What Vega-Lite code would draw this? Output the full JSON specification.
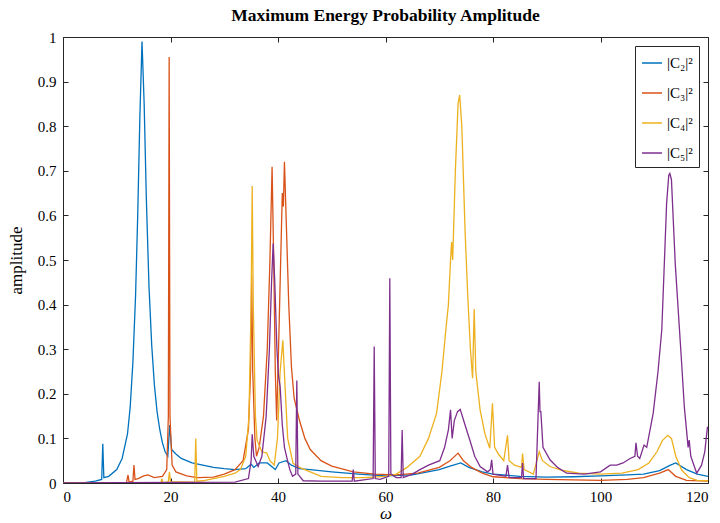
{
  "$schema": "https://vega.github.io/schema/vega-lite/v6.json",
  "width": 645,
  "height": 446,
  "autosize": {"type": "none"},
  "padding": {"left": 63, "top": 37, "right": 12, "bottom": 40},
  "background": "white",
  "title": {"text": "Maximum Energy Probability Amplitude", "font": "Liberation Serif", "fontSize": 17.5, "fontWeight": "bold", "color": "#000000", "offset": 6, "anchor": "middle"},
  "config": {
    "view": {"stroke": "#262626", "strokeWidth": 1},
    "axis": {"grid": false, "domain": false, "tickColor": "#262626", "tickWidth": 1, "labelFont": "Liberation Serif", "labelFontSize": 15, "labelColor": "#000000", "titleFont": "Liberation Serif", "titleFontSize": 17, "titleFontWeight": "normal", "titleColor": "#000000"},
    "legend": {"orient": "top-right", "offset": 9, "strokeColor": "#262626", "fillColor": "white", "padding": 6, "symbolType": "stroke", "symbolSize": 400, "symbolStrokeWidth": 1.5, "labelFont": "Liberation Serif", "labelFontSize": 15, "labelColor": "#000000", "rowPadding": 11, "labelOffset": 4}
  },
  "data": {"values": [
    {"w": 0, "a": 0, "s": "|C₂|²"}, {"w": 4, "a": 0.001, "s": "|C₂|²"}, {"w": 6, "a": 0.004, "s": "|C₂|²"}, {"w": 7.2, "a": 0.008, "s": "|C₂|²"}, {"w": 7.4, "a": 0.088, "s": "|C₂|²"}, {"w": 7.6, "a": 0.012, "s": "|C₂|²"}, {"w": 8.5, "a": 0.015, "s": "|C₂|²"}, {"w": 10, "a": 0.03, "s": "|C₂|²"}, {"w": 11, "a": 0.055, "s": "|C₂|²"}, {"w": 12, "a": 0.11, "s": "|C₂|²"}, {"w": 12.5, "a": 0.17, "s": "|C₂|²"}, {"w": 13, "a": 0.27, "s": "|C₂|²"}, {"w": 13.5, "a": 0.42, "s": "|C₂|²"}, {"w": 13.9, "a": 0.6, "s": "|C₂|²"}, {"w": 14.3, "a": 0.82, "s": "|C₂|²"}, {"w": 14.7, "a": 0.99, "s": "|C₂|²"}, {"w": 15.1, "a": 0.85, "s": "|C₂|²"}, {"w": 15.5, "a": 0.64, "s": "|C₂|²"}, {"w": 16, "a": 0.44, "s": "|C₂|²"}, {"w": 16.5, "a": 0.31, "s": "|C₂|²"}, {"w": 17, "a": 0.22, "s": "|C₂|²"}, {"w": 17.5, "a": 0.16, "s": "|C₂|²"}, {"w": 18, "a": 0.12, "s": "|C₂|²"}, {"w": 18.5, "a": 0.09, "s": "|C₂|²"}, {"w": 19, "a": 0.07, "s": "|C₂|²"}, {"w": 19.5, "a": 0.06, "s": "|C₂|²"}, {"w": 19.85, "a": 0.13, "s": "|C₂|²"}, {"w": 20.2, "a": 0.075, "s": "|C₂|²"}, {"w": 21, "a": 0.065, "s": "|C₂|²"}, {"w": 22, "a": 0.055, "s": "|C₂|²"}, {"w": 24, "a": 0.045, "s": "|C₂|²"}, {"w": 26, "a": 0.04, "s": "|C₂|²"}, {"w": 28, "a": 0.035, "s": "|C₂|²"}, {"w": 30, "a": 0.032, "s": "|C₂|²"}, {"w": 32, "a": 0.03, "s": "|C₂|²"}, {"w": 34, "a": 0.032, "s": "|C₂|²"}, {"w": 35, "a": 0.042, "s": "|C₂|²"}, {"w": 35.5, "a": 0.035, "s": "|C₂|²"}, {"w": 36.5, "a": 0.045, "s": "|C₂|²"}, {"w": 38, "a": 0.045, "s": "|C₂|²"}, {"w": 39.5, "a": 0.03, "s": "|C₂|²"}, {"w": 40.2, "a": 0.045, "s": "|C₂|²"}, {"w": 41.5, "a": 0.05, "s": "|C₂|²"}, {"w": 42.5, "a": 0.04, "s": "|C₂|²"}, {"w": 44, "a": 0.032, "s": "|C₂|²"}, {"w": 46, "a": 0.03, "s": "|C₂|²"}, {"w": 50, "a": 0.025, "s": "|C₂|²"}, {"w": 55, "a": 0.02, "s": "|C₂|²"}, {"w": 60, "a": 0.016, "s": "|C₂|²"}, {"w": 65, "a": 0.018, "s": "|C₂|²"}, {"w": 70, "a": 0.03, "s": "|C₂|²"}, {"w": 72, "a": 0.038, "s": "|C₂|²"}, {"w": 74, "a": 0.045, "s": "|C₂|²"}, {"w": 75.5, "a": 0.035, "s": "|C₂|²"}, {"w": 78, "a": 0.025, "s": "|C₂|²"}, {"w": 80, "a": 0.02, "s": "|C₂|²"}, {"w": 85, "a": 0.015, "s": "|C₂|²"}, {"w": 90, "a": 0.013, "s": "|C₂|²"}, {"w": 95, "a": 0.014, "s": "|C₂|²"}, {"w": 100, "a": 0.016, "s": "|C₂|²"}, {"w": 105, "a": 0.018, "s": "|C₂|²"}, {"w": 108, "a": 0.02, "s": "|C₂|²"}, {"w": 111, "a": 0.028, "s": "|C₂|²"}, {"w": 113, "a": 0.04, "s": "|C₂|²"}, {"w": 114, "a": 0.045, "s": "|C₂|²"}, {"w": 116, "a": 0.03, "s": "|C₂|²"}, {"w": 118, "a": 0.02, "s": "|C₂|²"}, {"w": 120, "a": 0.015, "s": "|C₂|²"},

    {"w": 0, "a": 0, "s": "|C₃|²"}, {"w": 11.8, "a": 0, "s": "|C₃|²"}, {"w": 12.1, "a": 0.018, "s": "|C₃|²"}, {"w": 12.3, "a": 0.002, "s": "|C₃|²"}, {"w": 13.0, "a": 0.004, "s": "|C₃|²"}, {"w": 13.2, "a": 0.04, "s": "|C₃|²"}, {"w": 13.4, "a": 0.008, "s": "|C₃|²"}, {"w": 14, "a": 0.01, "s": "|C₃|²"}, {"w": 15, "a": 0.016, "s": "|C₃|²"}, {"w": 15.8, "a": 0.018, "s": "|C₃|²"}, {"w": 17, "a": 0.012, "s": "|C₃|²"}, {"w": 18.5, "a": 0.015, "s": "|C₃|²"}, {"w": 19.3, "a": 0.03, "s": "|C₃|²"}, {"w": 19.6, "a": 0.15, "s": "|C₃|²"}, {"w": 19.75, "a": 0.955, "s": "|C₃|²"}, {"w": 19.9, "a": 0.15, "s": "|C₃|²"}, {"w": 20.3, "a": 0.04, "s": "|C₃|²"}, {"w": 21, "a": 0.025, "s": "|C₃|²"}, {"w": 23, "a": 0.016, "s": "|C₃|²"}, {"w": 25, "a": 0.012, "s": "|C₃|²"}, {"w": 28, "a": 0.013, "s": "|C₃|²"}, {"w": 30, "a": 0.02, "s": "|C₃|²"}, {"w": 32, "a": 0.03, "s": "|C₃|²"}, {"w": 33.5, "a": 0.05, "s": "|C₃|²"}, {"w": 34.5, "a": 0.12, "s": "|C₃|²"}, {"w": 34.9, "a": 0.25, "s": "|C₃|²"}, {"w": 35.1, "a": 0.466, "s": "|C₃|²"}, {"w": 35.3, "a": 0.25, "s": "|C₃|²"}, {"w": 35.7, "a": 0.1, "s": "|C₃|²"}, {"w": 36.0, "a": 0.06, "s": "|C₃|²"}, {"w": 36.5, "a": 0.08, "s": "|C₃|²"}, {"w": 37.3, "a": 0.15, "s": "|C₃|²"}, {"w": 38, "a": 0.3, "s": "|C₃|²"}, {"w": 38.5, "a": 0.5, "s": "|C₃|²"}, {"w": 38.9, "a": 0.709, "s": "|C₃|²"}, {"w": 39.2, "a": 0.5, "s": "|C₃|²"}, {"w": 39.5, "a": 0.25, "s": "|C₃|²"}, {"w": 39.75, "a": 0.14, "s": "|C₃|²"}, {"w": 40.1, "a": 0.3, "s": "|C₃|²"}, {"w": 40.5, "a": 0.5, "s": "|C₃|²"}, {"w": 40.8, "a": 0.65, "s": "|C₃|²"}, {"w": 41.0, "a": 0.62, "s": "|C₃|²"}, {"w": 41.2, "a": 0.72, "s": "|C₃|²"}, {"w": 41.5, "a": 0.6, "s": "|C₃|²"}, {"w": 42, "a": 0.4, "s": "|C₃|²"}, {"w": 42.5, "a": 0.26, "s": "|C₃|²"}, {"w": 43, "a": 0.19, "s": "|C₃|²"}, {"w": 44, "a": 0.14, "s": "|C₃|²"}, {"w": 45, "a": 0.1, "s": "|C₃|²"}, {"w": 46, "a": 0.075, "s": "|C₃|²"}, {"w": 48, "a": 0.05, "s": "|C₃|²"}, {"w": 50, "a": 0.038, "s": "|C₃|²"}, {"w": 54, "a": 0.025, "s": "|C₃|²"}, {"w": 58, "a": 0.02, "s": "|C₃|²"}, {"w": 62, "a": 0.018, "s": "|C₃|²"}, {"w": 66, "a": 0.022, "s": "|C₃|²"}, {"w": 70, "a": 0.035, "s": "|C₃|²"}, {"w": 72, "a": 0.05, "s": "|C₃|²"}, {"w": 73.5, "a": 0.067, "s": "|C₃|²"}, {"w": 74.5, "a": 0.05, "s": "|C₃|²"}, {"w": 76, "a": 0.035, "s": "|C₃|²"}, {"w": 78, "a": 0.022, "s": "|C₃|²"}, {"w": 80, "a": 0.014, "s": "|C₃|²"}, {"w": 85, "a": 0.01, "s": "|C₃|²"}, {"w": 90, "a": 0.008, "s": "|C₃|²"}, {"w": 95, "a": 0.007, "s": "|C₃|²"}, {"w": 100, "a": 0.006, "s": "|C₃|²"}, {"w": 105, "a": 0.008, "s": "|C₃|²"}, {"w": 108, "a": 0.012, "s": "|C₃|²"}, {"w": 111, "a": 0.022, "s": "|C₃|²"}, {"w": 112.6, "a": 0.03, "s": "|C₃|²"}, {"w": 114, "a": 0.015, "s": "|C₃|²"}, {"w": 116, "a": 0.006, "s": "|C₃|²"}, {"w": 120, "a": 0.004, "s": "|C₃|²"},

    {"w": 0, "a": 0, "s": "|C₄|²"}, {"w": 18.2, "a": 0, "s": "|C₄|²"}, {"w": 18.4, "a": 0.01, "s": "|C₄|²"}, {"w": 18.6, "a": 0, "s": "|C₄|²"}, {"w": 19.6, "a": 0.003, "s": "|C₄|²"}, {"w": 19.8, "a": 0.025, "s": "|C₄|²"}, {"w": 20, "a": 0.003, "s": "|C₄|²"}, {"w": 24.5, "a": 0.002, "s": "|C₄|²"}, {"w": 24.7, "a": 0.1, "s": "|C₄|²"}, {"w": 24.9, "a": 0.004, "s": "|C₄|²"}, {"w": 26, "a": 0.005, "s": "|C₄|²"}, {"w": 28, "a": 0.01, "s": "|C₄|²"}, {"w": 30, "a": 0.015, "s": "|C₄|²"}, {"w": 32, "a": 0.022, "s": "|C₄|²"}, {"w": 33, "a": 0.03, "s": "|C₄|²"}, {"w": 34, "a": 0.06, "s": "|C₄|²"}, {"w": 34.6, "a": 0.15, "s": "|C₄|²"}, {"w": 35.0, "a": 0.4, "s": "|C₄|²"}, {"w": 35.2, "a": 0.666, "s": "|C₄|²"}, {"w": 35.4, "a": 0.4, "s": "|C₄|²"}, {"w": 35.8, "a": 0.15, "s": "|C₄|²"}, {"w": 36.1, "a": 0.096, "s": "|C₄|²"}, {"w": 37, "a": 0.07, "s": "|C₄|²"}, {"w": 37.9, "a": 0.067, "s": "|C₄|²"}, {"w": 38.5, "a": 0.05, "s": "|C₄|²"}, {"w": 39.3, "a": 0.04, "s": "|C₄|²"}, {"w": 39.9, "a": 0.1, "s": "|C₄|²"}, {"w": 40.4, "a": 0.25, "s": "|C₄|²"}, {"w": 40.9, "a": 0.32, "s": "|C₄|²"}, {"w": 41.3, "a": 0.22, "s": "|C₄|²"}, {"w": 41.8, "a": 0.1, "s": "|C₄|²"}, {"w": 42.8, "a": 0.044, "s": "|C₄|²"}, {"w": 44, "a": 0.035, "s": "|C₄|²"}, {"w": 46, "a": 0.025, "s": "|C₄|²"}, {"w": 48, "a": 0.015, "s": "|C₄|²"}, {"w": 52, "a": 0.012, "s": "|C₄|²"}, {"w": 56, "a": 0.012, "s": "|C₄|²"}, {"w": 60, "a": 0.015, "s": "|C₄|²"}, {"w": 62, "a": 0.02, "s": "|C₄|²"}, {"w": 64, "a": 0.035, "s": "|C₄|²"}, {"w": 66.4, "a": 0.06, "s": "|C₄|²"}, {"w": 68, "a": 0.1, "s": "|C₄|²"}, {"w": 69.5, "a": 0.156, "s": "|C₄|²"}, {"w": 70.5, "a": 0.25, "s": "|C₄|²"}, {"w": 71.2, "a": 0.34, "s": "|C₄|²"}, {"w": 71.7, "a": 0.4, "s": "|C₄|²"}, {"w": 72.1, "a": 0.5, "s": "|C₄|²"}, {"w": 72.3, "a": 0.54, "s": "|C₄|²"}, {"w": 72.5, "a": 0.5, "s": "|C₄|²"}, {"w": 73, "a": 0.7, "s": "|C₄|²"}, {"w": 73.5, "a": 0.85, "s": "|C₄|²"}, {"w": 73.8, "a": 0.87, "s": "|C₄|²"}, {"w": 74.2, "a": 0.8, "s": "|C₄|²"}, {"w": 74.8, "a": 0.567, "s": "|C₄|²"}, {"w": 75.3, "a": 0.42, "s": "|C₄|²"}, {"w": 75.8, "a": 0.3, "s": "|C₄|²"}, {"w": 76.2, "a": 0.235, "s": "|C₄|²"}, {"w": 76.5, "a": 0.39, "s": "|C₄|²"}, {"w": 76.8, "a": 0.25, "s": "|C₄|²"}, {"w": 77.6, "a": 0.164, "s": "|C₄|²"}, {"w": 78.5, "a": 0.11, "s": "|C₄|²"}, {"w": 79.4, "a": 0.078, "s": "|C₄|²"}, {"w": 79.9, "a": 0.179, "s": "|C₄|²"}, {"w": 80.3, "a": 0.08, "s": "|C₄|²"}, {"w": 81, "a": 0.065, "s": "|C₄|²"}, {"w": 82, "a": 0.05, "s": "|C₄|²"}, {"w": 82.7, "a": 0.107, "s": "|C₄|²"}, {"w": 83, "a": 0.05, "s": "|C₄|²"}, {"w": 84, "a": 0.04, "s": "|C₄|²"}, {"w": 85.3, "a": 0.035, "s": "|C₄|²"}, {"w": 85.5, "a": 0.066, "s": "|C₄|²"}, {"w": 85.8, "a": 0.03, "s": "|C₄|²"}, {"w": 87.5, "a": 0.02, "s": "|C₄|²"}, {"w": 88.6, "a": 0.07, "s": "|C₄|²"}, {"w": 89.2, "a": 0.05, "s": "|C₄|²"}, {"w": 90.6, "a": 0.037, "s": "|C₄|²"}, {"w": 93, "a": 0.028, "s": "|C₄|²"}, {"w": 96, "a": 0.022, "s": "|C₄|²"}, {"w": 100, "a": 0.02, "s": "|C₄|²"}, {"w": 104, "a": 0.022, "s": "|C₄|²"}, {"w": 107, "a": 0.03, "s": "|C₄|²"}, {"w": 109, "a": 0.045, "s": "|C₄|²"}, {"w": 110.5, "a": 0.07, "s": "|C₄|²"}, {"w": 111.5, "a": 0.095, "s": "|C₄|²"}, {"w": 112.5, "a": 0.107, "s": "|C₄|²"}, {"w": 113.2, "a": 0.1, "s": "|C₄|²"}, {"w": 114, "a": 0.06, "s": "|C₄|²"}, {"w": 115.1, "a": 0.029, "s": "|C₄|²"}, {"w": 116.5, "a": 0.012, "s": "|C₄|²"}, {"w": 118, "a": 0.006, "s": "|C₄|²"}, {"w": 120, "a": 0.005, "s": "|C₄|²"},

    {"w": 0, "a": 0, "s": "|C₅|²"}, {"w": 32, "a": 0.002, "s": "|C₅|²"}, {"w": 34.5, "a": 0.01, "s": "|C₅|²"}, {"w": 35.0, "a": 0.05, "s": "|C₅|²"}, {"w": 35.2, "a": 0.109, "s": "|C₅|²"}, {"w": 35.5, "a": 0.06, "s": "|C₅|²"}, {"w": 36.3, "a": 0.037, "s": "|C₅|²"}, {"w": 37, "a": 0.06, "s": "|C₅|²"}, {"w": 37.8, "a": 0.15, "s": "|C₅|²"}, {"w": 38.4, "a": 0.3, "s": "|C₅|²"}, {"w": 38.8, "a": 0.45, "s": "|C₅|²"}, {"w": 39.1, "a": 0.537, "s": "|C₅|²"}, {"w": 39.4, "a": 0.45, "s": "|C₅|²"}, {"w": 39.8, "a": 0.3, "s": "|C₅|²"}, {"w": 40.1, "a": 0.24, "s": "|C₅|²"}, {"w": 40.4, "a": 0.216, "s": "|C₅|²"}, {"w": 40.8, "a": 0.13, "s": "|C₅|²"}, {"w": 41.2, "a": 0.08, "s": "|C₅|²"}, {"w": 41.6, "a": 0.059, "s": "|C₅|²"}, {"w": 42.2, "a": 0.03, "s": "|C₅|²"}, {"w": 42.7, "a": 0.015, "s": "|C₅|²"}, {"w": 43.3, "a": 0.02, "s": "|C₅|²"}, {"w": 43.5, "a": 0.23, "s": "|C₅|²"}, {"w": 43.7, "a": 0.02, "s": "|C₅|²"}, {"w": 44.7, "a": 0.005, "s": "|C₅|²"}, {"w": 48, "a": 0.004, "s": "|C₅|²"}, {"w": 53.8, "a": 0.004, "s": "|C₅|²"}, {"w": 54, "a": 0.03, "s": "|C₅|²"}, {"w": 54.2, "a": 0.004, "s": "|C₅|²"}, {"w": 57.7, "a": 0.01, "s": "|C₅|²"}, {"w": 57.9, "a": 0.306, "s": "|C₅|²"}, {"w": 58.1, "a": 0.01, "s": "|C₅|²"}, {"w": 59, "a": 0.008, "s": "|C₅|²"}, {"w": 60.6, "a": 0.015, "s": "|C₅|²"}, {"w": 60.8, "a": 0.459, "s": "|C₅|²"}, {"w": 61, "a": 0.02, "s": "|C₅|²"}, {"w": 62, "a": 0.012, "s": "|C₅|²"}, {"w": 62.9, "a": 0.012, "s": "|C₅|²"}, {"w": 63.1, "a": 0.119, "s": "|C₅|²"}, {"w": 63.3, "a": 0.012, "s": "|C₅|²"}, {"w": 65, "a": 0.02, "s": "|C₅|²"}, {"w": 66.4, "a": 0.03, "s": "|C₅|²"}, {"w": 68, "a": 0.04, "s": "|C₅|²"}, {"w": 70.1, "a": 0.05, "s": "|C₅|²"}, {"w": 71, "a": 0.08, "s": "|C₅|²"}, {"w": 71.7, "a": 0.119, "s": "|C₅|²"}, {"w": 72.1, "a": 0.164, "s": "|C₅|²"}, {"w": 72.4, "a": 0.1, "s": "|C₅|²"}, {"w": 72.8, "a": 0.14, "s": "|C₅|²"}, {"w": 73.4, "a": 0.16, "s": "|C₅|²"}, {"w": 73.9, "a": 0.165, "s": "|C₅|²"}, {"w": 74.8, "a": 0.13, "s": "|C₅|²"}, {"w": 75.7, "a": 0.096, "s": "|C₅|²"}, {"w": 76.6, "a": 0.06, "s": "|C₅|²"}, {"w": 77.6, "a": 0.037, "s": "|C₅|²"}, {"w": 79, "a": 0.025, "s": "|C₅|²"}, {"w": 79.5, "a": 0.03, "s": "|C₅|²"}, {"w": 79.75, "a": 0.052, "s": "|C₅|²"}, {"w": 80, "a": 0.02, "s": "|C₅|²"}, {"w": 82.4, "a": 0.015, "s": "|C₅|²"}, {"w": 82.7, "a": 0.04, "s": "|C₅|²"}, {"w": 83, "a": 0.012, "s": "|C₅|²"}, {"w": 85.3, "a": 0.012, "s": "|C₅|²"}, {"w": 85.5, "a": 0.045, "s": "|C₅|²"}, {"w": 85.7, "a": 0.01, "s": "|C₅|²"}, {"w": 88.0, "a": 0.01, "s": "|C₅|²"}, {"w": 88.6, "a": 0.227, "s": "|C₅|²"}, {"w": 88.75, "a": 0.16, "s": "|C₅|²"}, {"w": 88.9, "a": 0.16, "s": "|C₅|²"}, {"w": 89.3, "a": 0.08, "s": "|C₅|²"}, {"w": 90.6, "a": 0.052, "s": "|C₅|²"}, {"w": 92, "a": 0.035, "s": "|C₅|²"}, {"w": 93.7, "a": 0.022, "s": "|C₅|²"}, {"w": 97, "a": 0.02, "s": "|C₅|²"}, {"w": 100, "a": 0.025, "s": "|C₅|²"}, {"w": 101.8, "a": 0.04, "s": "|C₅|²"}, {"w": 103, "a": 0.04, "s": "|C₅|²"}, {"w": 104.2, "a": 0.045, "s": "|C₅|²"}, {"w": 105.5, "a": 0.055, "s": "|C₅|²"}, {"w": 106.4, "a": 0.06, "s": "|C₅|²"}, {"w": 106.6, "a": 0.09, "s": "|C₅|²"}, {"w": 106.9, "a": 0.06, "s": "|C₅|²"}, {"w": 107.3, "a": 0.055, "s": "|C₅|²"}, {"w": 108.1, "a": 0.085, "s": "|C₅|²"}, {"w": 108.6, "a": 0.08, "s": "|C₅|²"}, {"w": 109.8, "a": 0.156, "s": "|C₅|²"}, {"w": 110.7, "a": 0.25, "s": "|C₅|²"}, {"w": 111.4, "a": 0.343, "s": "|C₅|²"}, {"w": 111.9, "a": 0.5, "s": "|C₅|²"}, {"w": 112.3, "a": 0.627, "s": "|C₅|²"}, {"w": 112.7, "a": 0.69, "s": "|C₅|²"}, {"w": 112.9, "a": 0.694, "s": "|C₅|²"}, {"w": 113.2, "a": 0.68, "s": "|C₅|²"}, {"w": 113.5, "a": 0.6, "s": "|C₅|²"}, {"w": 113.9, "a": 0.493, "s": "|C₅|²"}, {"w": 114.5, "a": 0.38, "s": "|C₅|²"}, {"w": 115.1, "a": 0.268, "s": "|C₅|²"}, {"w": 115.6, "a": 0.17, "s": "|C₅|²"}, {"w": 116, "a": 0.119, "s": "|C₅|²"}, {"w": 116.3, "a": 0.08, "s": "|C₅|²"}, {"w": 116.5, "a": 0.096, "s": "|C₅|²"}, {"w": 116.8, "a": 0.06, "s": "|C₅|²"}, {"w": 117.9, "a": 0.022, "s": "|C₅|²"}, {"w": 118.8, "a": 0.04, "s": "|C₅|²"}, {"w": 119.4, "a": 0.07, "s": "|C₅|²"}, {"w": 119.9, "a": 0.126, "s": "|C₅|²"}
  ]},
  "layer": [
    {
      "mark": {"type": "line", "strokeWidth": 1.3, "clip": true},
      "encoding": {
        "x": {"field": "w", "type": "quantitative", "scale": {"domain": [0, 120], "nice": false}, "axis": {"orient": "bottom", "values": [0, 20, 40, 60, 80, 100, 120], "tickSize": -5, "labelPadding": 11, "title": "ω", "titleFontStyle": "italic", "titlePadding": 1}},
        "y": {"field": "a", "type": "quantitative", "scale": {"domain": [0, 1], "nice": false}, "axis": {"orient": "left", "values": [0, 0.1, 0.2, 0.3, 0.4, 0.5, 0.6, 0.7, 0.8, 0.9, 1], "format": "~g", "tickSize": -5, "labelPadding": 12, "title": "amplitude", "titlePadding": 12}},
        "color": {"field": "s", "type": "nominal", "scale": {"domain": ["|C₂|²", "|C₃|²", "|C₄|²", "|C₅|²"], "range": ["#0072BD", "#D95319", "#EDB120", "#7E2F8E"]}, "legend": {"title": null}}
      }
    },
    {
      "mark": {"type": "point", "opacity": 0, "size": 0},
      "encoding": {
        "x": {"field": "w", "type": "quantitative", "axis": {"orient": "top", "values": [0, 20, 40, 60, 80, 100, 120], "tickSize": -5, "labels": false, "title": null}},
        "y": {"field": "a", "type": "quantitative", "axis": {"orient": "right", "values": [0, 0.1, 0.2, 0.3, 0.4, 0.5, 0.6, 0.7, 0.8, 0.9, 1], "tickSize": -5, "labels": false, "title": null}}
      }
    }
  ],
  "resolve": {"axis": {"x": "independent", "y": "independent"}}
}
